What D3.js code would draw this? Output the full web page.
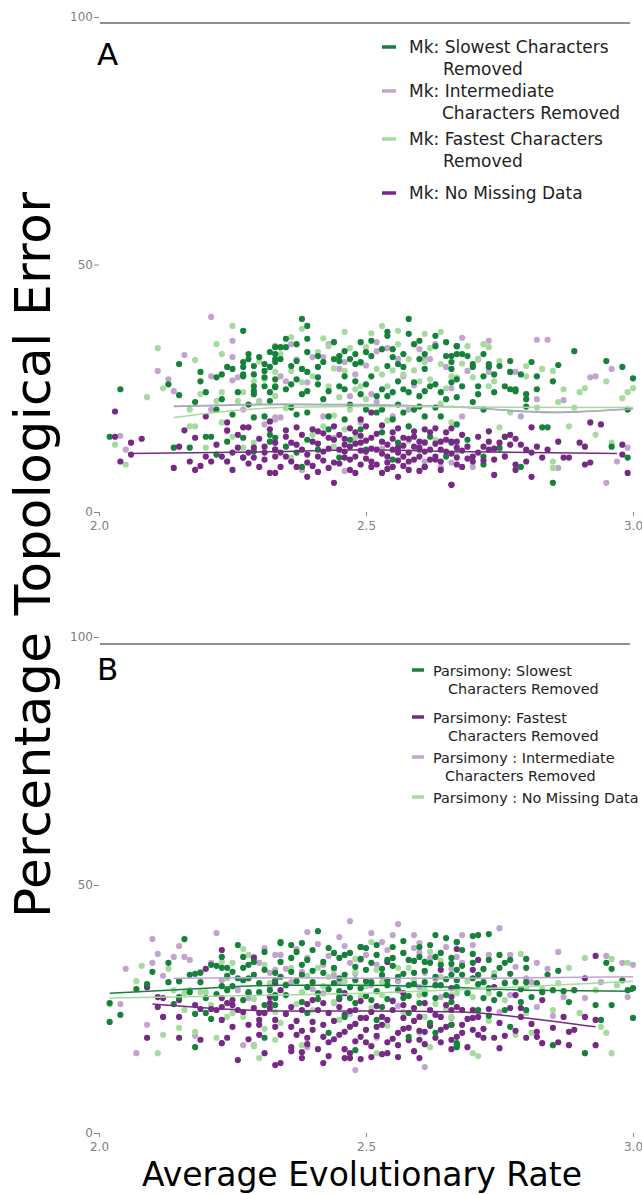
<!DOCTYPE html>
<html>
<head>
<meta charset="utf-8">
<script src="https://cdn.jsdelivr.net/npm/d3@7"></script>
<style>
  body { margin: 0; background: #fff; }
  text { font-family: "DejaVu Sans", sans-serif; }
</style>
</head>
<body>
<svg></svg>
<script>
var svgWidth = 642, svgHeight = 1195;

// axis ticks
var xTicks = [2.0, 2.5, 3.0];
var yTicks = [0, 50, 100];

// colours (PRGn)
var darkGreen = "#16813a", lightPurple = "#c2a5cf", lightGreen = "#a6dba0", darkPurple = "#762a83";

// ---- panel A: Mk  [average evolutionary rate, % topological error] ----
var mkSlowest = [[2.04,24.8],[2.02,15.2],[2.15,29.9],[2.13,25.8],[2.15,23.6],[2.27,36.6],[2.19,28.3],[2.19,26.4],[2.22,27.2],[2.23,27.8],[2.24,29.3],[2.25,28.9],[2.27,29.3],[2.27,30.3],[2.28,31.9],[2.28,30.9],[2.29,29.5],[2.30,31.3],[2.31,28.5],[2.31,29.9],[2.32,32.3],[2.33,30.9],[2.33,33.3],[2.20,24.2],[2.23,22.8],[2.26,24.2],[2.27,27.4],[2.29,24.4],[2.29,23.8],[2.29,25.4],[2.31,25.4],[2.33,25.2],[2.32,22.4],[2.22,20.7],[2.25,19.7],[2.29,19.1],[2.31,19.3],[2.18,22.2],[2.14,13.0],[2.17,13.0],[2.20,15.2],[2.21,15.2],[2.22,11.6],[2.24,14.2],[2.27,15.0],[2.27,11.0],[2.29,12.2],[2.32,15.6],[2.32,14.2],[2.33,12.6],
  [2.38,39.0],[2.39,37.6],[2.37,33.9],[2.39,35.0],[2.34,33.3],[2.35,33.3],[2.33,30.3],[2.34,30.9],[2.36,29.5],[2.38,28.9],[2.39,28.3],[2.41,29.3],[2.42,30.3],[2.44,30.9],[2.45,31.5],[2.45,30.5],[2.47,30.9],[2.48,29.9],[2.49,34.3],[2.50,32.3],[2.51,31.5],[2.53,32.9],[2.54,36.4],[2.54,35.6],[2.55,31.3],[2.56,29.9],[2.57,31.9],[2.58,36.0],[2.58,39.0],[2.59,33.9],[2.60,30.9],[2.61,28.9],[2.63,35.6],[2.63,33.5],[2.65,31.5],[2.66,30.3],[2.67,33.5],
  [2.33,25.4],[2.35,24.8],[2.37,26.8],[2.38,23.8],[2.41,25.8],[2.42,22.8],[2.45,25.4],[2.46,27.4],[2.48,26.4],[2.49,23.8],[2.51,27.4],[2.53,24.8],[2.54,23.4],[2.56,26.4],[2.57,24.8],[2.59,26.2],[2.60,23.4],[2.62,25.4],[2.64,24.2],[2.66,26.2],[2.67,23.2],
  [2.36,21.1],[2.39,20.1],[2.43,19.3],[2.46,18.7],[2.50,20.7],[2.52,20.1],[2.55,18.7],[2.57,20.1],[2.59,20.7],[2.61,19.3],[2.64,19.3],
  [2.33,15.0],[2.35,13.2],[2.37,12.0],[2.39,14.6],[2.41,12.6],[2.43,16.7],[2.45,11.0],[2.47,14.6],[2.49,16.7],[2.50,12.6],[2.53,16.1],[2.55,10.6],[2.56,14.0],[2.58,17.3],[2.60,12.6],[2.62,15.2],[2.65,11.2],[2.66,14.0],[2.61,9.1],[2.38,9.1],
  [2.67,33.5],[2.68,31.9],[2.69,31.5],[2.66,28.9],[2.67,26.8],[2.68,25.4],[2.70,29.9],[2.72,27.4],[2.72,31.9],[2.73,29.3],[2.74,27.8],[2.75,29.5],[2.77,28.3],[2.77,24.8],[2.78,24.4],[2.79,27.8],[2.80,23.8],[2.80,22.8],[2.80,21.3],[2.81,30.3],[2.82,24.8],[2.86,29.7],[2.85,26.4],[2.89,32.5],[2.95,30.5],[2.98,29.3],[3.00,27.0],[2.99,20.7],[2.70,22.2],[2.71,23.8],[2.72,20.7],
  [2.67,17.7],[2.69,14.6],[2.72,11.2],[2.72,9.6],[2.76,15.2],[2.79,9.1],[2.83,17.1],[2.84,17.1],[2.85,5.9],[2.96,13.2],[2.99,11.0],[2.75,13.0],
  [2.33,31.9],[2.35,35.0],[2.37,30.5],[2.39,32.3],[2.41,31.5],[2.44,34.3],[2.46,32.5],[2.48,31.9],[2.49,30.3],[2.51,34.6],[2.54,29.5],[2.55,32.9],[2.57,29.3],[2.60,34.6],[2.61,31.9],[2.65,34.3],[2.67,31.9],[2.33,26.8],[2.36,25.8],[2.39,24.4],[2.41,27.2],[2.43,24.4],[2.46,24.8],[2.50,25.8],[2.52,23.4],[2.55,24.2],[2.58,24.2],[2.61,24.4],[2.63,25.8],[2.65,22.8],[2.47,21.7],[2.56,21.7],[2.60,21.3],[2.37,19.7],[2.53,20.7],[2.63,21.1],
  [2.27,27.8],[2.29,27.8],[2.32,29.3],[2.31,27.2],[2.32,24.2],[2.28,21.7],[2.66,31.5],[2.70,29.3],[2.73,29.9],[2.71,25.4],[2.74,24.2],[2.76,25.4],[2.78,24.8],[2.82,27.4],[2.77,30.5]];

var mkIntermediate = [[2.21,39.4],[2.25,34.6],[2.16,31.7],[2.11,28.5],[2.13,26.8],[2.14,24.4],[2.21,27.4],[2.25,26.6],[2.26,27.2],[2.25,31.3],[2.33,33.5],[2.04,15.4],[2.05,12.6],[2.21,20.7],[2.27,20.7],[2.24,16.3],[2.30,22.4],[2.33,18.7],[2.31,17.7],
  [2.33,33.5],[2.36,33.9],[2.40,31.3],[2.42,31.3],[2.45,28.9],[2.46,30.3],[2.48,27.8],[2.52,32.5],[2.52,34.3],[2.56,30.9],[2.57,27.4],[2.61,30.9],[2.62,30.9],[2.65,29.3],[2.60,32.9],[2.51,23.8],[2.34,27.4],[2.35,26.4],[2.39,26.2],[2.33,19.1],[2.34,19.1],[2.42,19.3],[2.47,23.4],[2.49,18.1],[2.52,22.2],[2.55,19.3],[2.58,20.7],[2.61,10.2],[2.66,10.0],[2.64,9.1],[2.38,8.5],
  [2.68,35.2],[2.73,34.6],[2.82,34.8],[2.84,34.8],[2.69,28.5],[2.73,28.3],[2.77,28.3],[2.78,28.3],[2.92,27.2],[2.93,27.4],[2.96,28.9],[2.87,22.6],[2.68,19.3],[2.79,19.3],[2.82,22.8],[2.86,8.9],[2.95,5.9],[2.97,10.2],[2.99,13.0],[2.75,12.6],[2.70,9.1],
  [2.37,30.8],[2.43,33.9],[2.50,29.6],[2.54,33.1],[2.59,25.6],[2.63,33.9],[2.66,25.0],[2.71,30.8],[2.44,15.0],[2.53,12.8],[2.46,8.3],[2.58,14.4]];

var mkFastest = [[2.11,33.1],[2.09,23.2],[2.12,25.0],[2.25,37.6],[2.22,33.9],[2.18,30.7],[2.23,31.9],[2.05,9.6],[2.03,13.6],[2.17,20.7],[2.19,23.8],[2.22,22.4],[2.23,24.2],[2.26,22.4],[2.27,24.2],[2.29,26.4],[2.30,22.2],[2.33,23.4],[2.17,17.3],[2.18,17.3],[2.20,13.0],[2.23,18.1],[2.25,15.2],[2.27,13.0],[2.29,14.0],[2.24,10.2],[2.33,28.3],[2.31,26.8],
  [2.38,37.0],[2.46,36.4],[2.53,37.6],[2.56,36.6],[2.61,36.0],[2.64,36.4],[2.39,32.3],[2.41,32.3],[2.43,33.5],[2.45,31.5],[2.46,28.5],[2.48,24.8],[2.49,25.4],[2.50,22.8],[2.52,28.9],[2.53,27.8],[2.54,25.4],[2.57,27.8],[2.58,30.9],[2.60,26.4],[2.61,30.3],[2.62,26.8],[2.64,29.9],[2.66,27.4],[2.34,31.9],[2.36,28.5],[2.38,26.2],[2.43,25.4],[2.45,23.2],[2.47,20.7],[2.42,17.3],[2.46,16.7],[2.48,15.0],[2.44,13.2],[2.58,17.3],[2.61,14.2],[2.63,14.6],[2.66,18.1],[2.36,11.0],[2.50,33.3],
  [2.69,33.5],[2.72,33.9],[2.73,33.3],[2.67,27.2],[2.70,27.2],[2.73,25.4],[2.74,26.4],[2.75,30.5],[2.78,24.4],[2.80,27.4],[2.80,29.5],[2.83,28.9],[2.85,28.5],[2.87,24.8],[2.86,22.2],[2.89,21.1],[2.90,24.2],[2.91,25.0],[2.95,26.4],[2.99,24.2],[2.98,23.0],[3.00,25.0],[2.77,20.1],[2.82,21.1],[2.88,17.3],[2.93,15.6],[2.96,14.0],[2.85,10.2],[2.85,8.9],[2.75,17.1],[2.76,11.6],[2.67,12.0],
  [2.36,35.3],[2.40,27.4],[2.42,35.1],[2.44,29.0],[2.47,33.1],[2.49,30.0],[2.51,36.1],[2.55,28.6],[2.56,33.9],[2.59,28.6],[2.62,33.1],[2.65,25.0],[2.68,30.0],[2.71,31.0],[2.30,30.4],[2.35,21.0],[2.44,19.5],[2.54,18.5],[2.40,15.6],[2.64,21.9]];

var mkNoMissing = [[2.03,20.3],[2.03,15.2],[2.06,14.0],[2.08,14.8],[2.04,10.2],[2.06,11.6],[2.14,8.9],[2.16,16.5],[2.17,10.2],[2.18,8.5],[2.15,13.2],[2.18,15.0],[2.20,19.3],[2.20,11.2],[2.21,10.2],[2.19,9.3],[2.22,13.6],[2.23,11.2],[2.24,10.2],[2.24,18.1],[2.24,16.5],[2.25,12.0],[2.25,8.5],[2.26,13.0],[2.27,17.1],[2.27,11.0],[2.28,12.0],[2.28,17.1],[2.29,13.0],[2.29,11.0],[2.30,9.1],[2.31,10.6],[2.31,13.2],[2.32,16.7],[2.33,7.9],[2.33,11.2],[2.33,14.0],[2.32,18.3],
  [2.32,7.9],[2.34,9.1],[2.35,11.2],[2.36,14.0],[2.37,17.1],[2.38,12.6],[2.39,10.0],[2.40,14.2],[2.41,11.2],[2.41,8.1],[2.42,12.2],[2.43,15.0],[2.44,10.0],[2.44,5.9],[2.45,12.6],[2.45,15.6],[2.46,11.0],[2.47,8.5],[2.47,13.2],[2.48,16.1],[2.48,11.2],[2.49,9.6],[2.49,14.0],[2.50,12.2],[2.51,15.0],[2.51,20.1],[2.51,10.2],[2.52,12.6],[2.53,7.9],[2.53,14.2],[2.54,11.2],[2.55,16.1],[2.55,9.1],[2.56,13.0],[2.56,7.1],[2.57,11.2],[2.57,15.0],[2.58,10.2],[2.59,13.2],[2.59,16.3],[2.60,11.2],[2.61,9.1],[2.61,14.0],[2.62,12.6],[2.62,16.1],[2.63,10.6],[2.64,14.2],[2.64,8.5],[2.65,12.2],[2.65,16.1],[2.66,5.5],[2.67,11.0],[2.67,14.2],[2.33,12.6],[2.35,15.2],[2.37,9.1],[2.39,7.1],[2.41,16.3],[2.46,13.6],[2.49,18.7],[2.51,9.1],[2.54,10.0],[2.56,12.0],[2.58,8.5],[2.60,13.0],[2.63,11.2],
  [2.66,14.2],[2.67,13.0],[2.68,9.1],[2.69,13.2],[2.70,11.2],[2.70,10.2],[2.71,15.2],[2.72,13.2],[2.73,12.6],[2.74,7.5],[2.74,10.6],[2.75,14.0],[2.76,15.2],[2.77,13.6],[2.77,15.6],[2.78,9.6],[2.78,8.5],[2.79,13.6],[2.80,12.6],[2.81,12.0],[2.81,7.1],[2.81,17.1],[2.82,13.2],[2.83,11.0],[2.84,12.6],[2.86,14.2],[2.87,11.0],[2.88,11.0],[2.90,14.0],[2.91,13.2],[2.92,18.1],[2.91,9.6],[2.92,10.0],[2.94,17.7],[2.98,13.6],[2.98,11.6],[2.99,7.9],[2.66,5.5],[2.73,14.2],
  [2.34,12.0],[2.35,16.5],[2.36,10.2],[2.37,13.6],[2.38,15.6],[2.39,11.6],[2.40,16.7],[2.40,9.3],[2.41,13.8],[2.42,10.4],[2.42,15.9],[2.43,12.8],[2.43,8.9],[2.44,14.6],[2.44,17.3],[2.45,9.8],[2.46,14.8],[2.46,12.2],[2.47,10.6],[2.47,16.9],[2.48,13.8],[2.48,7.9],[2.49,12.4],[2.49,15.4],[2.50,10.8],[2.50,14.4],[2.50,17.3],[2.51,12.8],[2.52,9.6],[2.52,15.8],[2.53,11.8],[2.53,17.5],[2.54,13.6],[2.54,8.7],[2.55,12.6],[2.55,14.8],[2.56,10.4],[2.56,16.9],[2.57,13.4],[2.57,9.3],[2.58,14.8],[2.58,12.0],[2.59,10.6],[2.59,15.2],[2.60,14.2],[2.60,8.3],[2.61,12.2],[2.61,16.7],[2.62,10.6],[2.63,13.8],[2.63,16.9],[2.64,12.6],[2.64,10.2],[2.65,14.6],[2.66,11.8],[2.66,16.9],[2.67,9.6],[2.68,12.4],[2.68,15.6],[2.69,10.8],[2.71,12.0],[2.72,10.4],[2.73,16.3],[2.74,12.8],[2.76,11.2],[2.78,14.8],[2.80,10.2],[2.30,14.8],[2.28,9.8],[2.26,15.6],[2.31,12.0]];

// lowess-style trend lines, panel A
var mkSlowestTrend = [[2.14,21.3],[2.34,21.7],[2.5,21.6],[2.66,21.3],[2.85,20.1],[3.0,20.9]];
var mkIntermediateTrend = [[2.14,21.4],[2.34,21.8],[2.5,21.7],[2.66,21.2],[2.85,20.2],[3.0,20.8]];
var mkFastestTrend = [[2.14,19.1],[2.34,21.1],[2.5,21.3],[2.7,21.2],[3.0,21.1]];
var mkNoMissingTrend = [[2.06,11.8],[2.34,12.2],[2.5,12.6],[2.66,12.2],[2.97,11.8]];

// ---- panel B: Parsimony ----
var parsSlowest = [[2.16,39.1],[2.26,37.9],[2.13,34.3],[2.10,32.5],[2.09,30.0],[2.07,29.0],[2.02,26.2],[2.04,23.8],[2.02,22.4],[2.13,30.4],[2.15,30.6],[2.17,31.9],[2.18,32.1],[2.19,30.4],[2.17,28.4],[2.15,27.4],[2.14,26.0],[2.18,24.0],[2.21,23.0],[2.20,24.2],[2.21,33.9],[2.22,33.7],[2.23,33.3],[2.23,35.5],[2.24,33.3],[2.25,32.5],[2.23,29.6],[2.24,28.8],[2.25,29.6],[2.27,30.8],[2.28,31.2],[2.27,33.3],[2.27,35.5],[2.29,34.5],[2.29,31.9],[2.31,32.9],[2.27,26.8],[2.28,28.4],[2.30,28.4],[2.31,25.8],[2.33,27.8],[2.33,25.8],[2.33,30.8],[2.18,17.3],[2.31,19.2],[2.34,38.3],[2.19,32.3],
  [2.41,40.7],[2.34,38.5],[2.36,37.9],[2.38,38.3],[2.37,36.5],[2.39,34.9],[2.43,37.3],[2.44,36.3],[2.45,35.3],[2.47,36.3],[2.49,37.5],[2.50,37.3],[2.52,35.9],[2.54,34.9],[2.55,35.3],[2.57,36.3],[2.58,34.9],[2.60,35.5],[2.61,34.5],[2.63,39.9],[2.63,35.5],[2.65,39.3],[2.67,38.5],[2.64,36.3],[2.66,35.3],
  [2.33,32.3],[2.34,31.5],[2.36,32.5],[2.38,31.9],[2.40,30.4],[2.42,32.3],[2.44,30.2],[2.45,31.2],[2.47,29.4],[2.48,30.8],[2.50,32.9],[2.51,30.4],[2.53,31.9],[2.54,29.8],[2.56,31.5],[2.58,29.8],[2.59,32.3],[2.61,30.4],[2.63,31.5],[2.64,29.8],[2.66,31.9],[2.67,29.4],
  [2.33,27.2],[2.35,27.8],[2.38,26.4],[2.41,28.2],[2.45,27.4],[2.48,26.2],[2.51,26.8],[2.53,25.4],[2.57,27.2],[2.60,26.2],[2.63,27.2],[2.66,26.4],[2.39,24.2],[2.46,23.4],[2.52,22.8],[2.58,24.2],[2.62,22.2],[2.66,21.8],[2.48,16.7],[2.58,19.4],[2.63,20.2],[2.67,17.7],[2.43,20.2],
  [2.70,39.7],[2.71,39.9],[2.67,38.5],[2.68,36.9],[2.75,35.9],[2.70,34.3],[2.73,34.9],[2.75,33.3],[2.76,34.3],[2.77,34.9],[2.80,33.3],[2.67,32.9],[2.68,31.9],[2.70,31.2],[2.71,31.9],[2.72,30.4],[2.73,29.2],[2.76,30.2],[2.78,30.4],[2.80,30.4],[2.86,32.7],[2.95,34.3],[2.96,33.1],[2.98,30.8],[3.00,29.2],[2.99,28.8],[2.87,28.6],[2.89,28.8],[2.85,28.8],[2.83,28.4],[2.81,27.4],[2.79,26.4],[2.72,27.2],[2.74,26.8],[2.71,24.8],[2.73,23.6],[2.88,26.4],[2.93,25.8],[2.96,25.8],[2.94,22.8],[3.00,23.2],[2.77,21.4],[2.85,17.7],[2.91,16.1],[2.67,18.1],[2.67,17.3],[2.76,24.8],[2.80,24.8],
  [2.34,34.5],[2.35,29.8],[2.36,35.3],[2.37,30.6],[2.38,33.9],[2.39,29.4],[2.40,36.9],[2.40,32.7],[2.41,27.0],[2.42,34.5],[2.43,29.0],[2.44,33.3],[2.45,28.6],[2.46,35.9],[2.46,31.9],[2.47,27.2],[2.48,33.5],[2.49,29.2],[2.49,35.1],[2.50,30.6],[2.50,27.6],[2.51,34.3],[2.52,28.6],[2.52,37.9],[2.53,33.1],[2.54,30.8],[2.54,27.0],[2.55,37.5],[2.55,33.7],[2.56,28.8],[2.57,32.1],[2.57,38.7],[2.58,27.6],[2.59,34.7],[2.59,30.0],[2.60,37.5],[2.61,32.7],[2.61,28.0],[2.62,34.3],[2.62,37.9],[2.63,29.8],[2.64,33.9],[2.65,31.0],[2.65,27.8],[2.66,34.1],[2.67,30.8],[2.68,33.7],[2.69,28.2],[2.70,36.1],[2.71,30.0],[2.72,33.1],[2.73,40.1],[2.74,31.5],[2.75,28.0],[2.77,32.1],[2.79,29.0],[2.80,35.1],[2.82,30.2],[2.84,31.9],[2.26,31.2],[2.28,33.9],[2.30,30.2],[2.31,36.5],[2.32,28.8],[2.22,28.0],[2.24,31.7],[2.20,27.2]];

var parsFastest = [[2.09,29.4],[2.11,25.4],[2.12,23.4],[2.09,19.2],[2.11,27.4],[2.12,27.2],[2.15,23.4],[2.15,19.2],[2.15,26.8],[2.18,25.8],[2.19,18.8],[2.19,25.0],[2.20,33.1],[2.21,25.0],[2.22,24.8],[2.23,27.2],[2.23,18.1],[2.23,36.9],[2.23,25.4],[2.24,26.2],[2.24,19.2],[2.23,22.8],[2.25,26.8],[2.25,25.8],[2.26,24.8],[2.28,28.2],[2.29,25.2],[2.29,35.3],[2.28,21.8],[2.30,24.2],[2.30,19.8],[2.30,21.8],[2.31,16.1],[2.31,24.2],[2.32,25.2],[2.32,27.4],[2.33,21.4],[2.33,13.7],
  [2.34,14.1],[2.36,17.3],[2.38,16.3],[2.38,15.1],[2.42,14.1],[2.46,15.1],[2.47,16.1],[2.47,15.1],[2.51,15.3],[2.54,16.1],[2.56,15.3],[2.60,15.1],[2.33,22.8],[2.36,21.4],[2.37,19.8],[2.39,19.2],[2.40,20.8],[2.42,19.4],[2.43,18.3],[2.45,19.8],[2.47,21.4],[2.49,19.4],[2.50,18.3],[2.52,21.4],[2.54,18.3],[2.56,20.2],[2.58,21.2],[2.60,18.8],[2.61,20.4],[2.63,19.2],[2.65,21.4],[2.67,19.4],[2.32,26.2],[2.34,28.8],[2.36,25.4],[2.38,24.8],[2.40,26.8],[2.41,24.8],[2.43,24.2],[2.45,25.4],[2.46,23.8],[2.48,24.8],[2.49,23.2],[2.51,24.4],[2.53,23.4],[2.55,24.8],[2.57,23.2],[2.59,25.2],[2.60,23.4],[2.62,24.8],[2.64,23.4],[2.66,24.8],[2.49,37.5],[2.54,34.5],[2.64,32.9],[2.33,30.2],[2.46,28.2],[2.57,28.2],
  [2.67,37.1],[2.70,32.9],[2.71,34.9],[2.66,29.2],[2.66,27.4],[2.67,25.4],[2.68,24.8],[2.70,24.8],[2.70,23.2],[2.71,23.4],[2.66,21.8],[2.68,21.8],[2.70,20.8],[2.71,19.8],[2.72,19.2],[2.74,19.2],[2.76,19.6],[2.69,17.3],[2.77,25.2],[2.79,25.2],[2.78,27.8],[2.79,23.4],[2.80,19.2],[2.82,20.4],[2.82,19.4],[2.83,26.8],[2.83,18.1],[2.85,21.2],[2.86,18.3],[2.87,23.4],[2.88,17.7],[2.88,20.4],[2.89,20.8],[2.91,23.4],[2.91,31.2],[2.93,22.8],[2.93,17.7],[2.93,35.7],[2.75,17.1],[2.74,29.4],[2.66,18.8],
  [2.34,19.8],[2.35,24.0],[2.36,16.5],[2.37,22.6],[2.38,20.6],[2.39,26.0],[2.39,17.9],[2.40,22.4],[2.41,16.9],[2.42,21.8],[2.42,26.2],[2.43,15.5],[2.44,22.6],[2.44,18.9],[2.45,27.0],[2.46,20.4],[2.46,16.9],[2.47,24.6],[2.48,18.5],[2.48,22.0],[2.49,14.9],[2.49,26.6],[2.50,20.8],[2.50,23.2],[2.51,17.5],[2.52,25.6],[2.52,19.6],[2.53,21.8],[2.53,15.9],[2.54,22.8],[2.55,19.0],[2.55,26.6],[2.56,17.7],[2.57,21.0],[2.57,25.8],[2.58,18.7],[2.59,22.6],[2.59,16.5],[2.60,20.6],[2.61,26.2],[2.61,17.9],[2.62,21.6],[2.63,23.8],[2.64,18.3],[2.64,20.8],[2.65,25.8],[2.66,16.9],[2.68,20.2],[2.69,23.0],[2.72,21.0],[2.73,25.0],[2.75,22.2],[2.78,20.6],[2.81,22.0],[2.30,22.8],[2.28,18.9],[2.27,24.4],[2.25,21.4],[2.26,14.7]];

var parsIntermediate = [[2.10,39.1],[2.22,40.3],[2.15,37.7],[2.11,36.1],[2.10,34.3],[2.05,33.1],[2.14,35.5],[2.16,35.5],[2.17,34.9],[2.12,31.7],[2.15,30.6],[2.19,32.5],[2.21,34.3],[2.23,30.8],[2.26,28.8],[2.28,27.2],[2.29,35.5],[2.30,34.3],[2.31,37.3],[2.32,32.3],[2.09,21.8],[2.07,16.1],[2.04,26.0],[2.18,19.6],[2.27,17.7],[2.29,17.7],[2.33,32.9],
  [2.47,42.7],[2.56,42.1],[2.39,40.5],[2.45,39.5],[2.53,38.5],[2.55,39.9],[2.59,39.9],[2.33,35.9],[2.34,35.9],[2.39,35.3],[2.42,33.9],[2.47,34.3],[2.49,34.9],[2.52,33.9],[2.57,36.3],[2.59,37.3],[2.60,36.3],[2.65,37.5],[2.45,30.4],[2.51,29.8],[2.60,29.4],[2.64,27.4],[2.39,17.3],[2.48,12.7],[2.61,13.3],[2.52,19.2],[2.38,32.5],[2.36,30.4],[2.42,28.2],
  [2.75,41.3],[2.68,39.9],[2.70,37.9],[2.67,35.5],[2.68,34.3],[2.73,35.9],[2.77,35.9],[2.86,36.5],[2.82,34.3],[2.81,30.4],[2.80,31.2],[2.84,33.1],[2.95,35.7],[2.98,34.3],[3.00,33.9],[2.94,30.4],[2.99,27.4],[2.87,27.4],[2.91,27.2],[2.82,25.4],[2.85,23.6],[2.69,28.4],[2.75,24.4],[2.66,23.2],[2.77,27.8],
  [2.35,33.1],[2.37,37.1],[2.40,29.0],[2.41,38.1],[2.43,35.7],[2.44,31.9],[2.46,37.7],[2.48,32.1],[2.50,35.9],[2.51,40.3],[2.53,31.5],[2.54,36.9],[2.56,30.6],[2.58,34.9],[2.60,38.3],[2.61,32.3],[2.62,35.3],[2.63,31.0],[2.66,33.1],[2.44,26.2],[2.56,25.6],[2.48,22.0],[2.32,29.6],[2.71,31.9],[2.78,33.5]];

var parsNoMissing = [[2.08,33.7],[2.07,30.6],[2.02,26.0],[2.13,33.1],[2.14,28.8],[2.16,28.2],[2.17,28.8],[2.12,19.8],[2.15,21.2],[2.16,24.8],[2.18,20.4],[2.11,16.1],[2.19,28.4],[2.20,28.4],[2.21,25.8],[2.22,19.2],[2.23,34.5],[2.25,34.3],[2.25,24.2],[2.24,23.4],[2.27,37.1],[2.28,35.9],[2.27,23.4],[2.29,17.5],[2.30,15.1],[2.31,33.9],[2.32,30.2],[2.33,24.4],[2.24,31.2],
  [2.38,38.3],[2.51,38.5],[2.48,32.5],[2.43,31.5],[2.41,33.3],[2.36,33.3],[2.56,33.3],[2.58,33.3],[2.62,36.5],[2.64,31.5],[2.34,22.2],[2.33,18.8],[2.38,17.7],[2.52,16.1],[2.62,17.3],[2.45,22.8],[2.49,27.4],[2.53,27.8],[2.55,26.8],[2.60,27.8],[2.66,27.8],[2.61,23.4],[2.38,28.4],[2.44,32.9],[2.52,32.9],[2.67,29.4],
  [2.71,15.5],[2.70,16.1],[2.79,36.1],[2.91,35.3],[2.96,35.1],[2.99,34.3],[2.67,28.2],[2.70,27.4],[2.73,28.2],[2.72,32.9],[2.74,32.3],[2.76,30.4],[2.80,29.4],[2.83,29.0],[2.85,24.8],[2.90,24.2],[2.80,24.2],[2.78,19.8],[2.81,20.2],[2.94,21.4],[2.95,20.2],[2.96,16.1],[2.66,23.4],[2.68,24.8],[2.97,29.8],[2.93,28.8],
  [2.35,30.0],[2.37,26.0],[2.39,31.7],[2.40,24.8],[2.42,29.6],[2.44,26.4],[2.46,30.6],[2.47,24.0],[2.48,35.1],[2.50,29.6],[2.51,25.2],[2.53,30.4],[2.54,21.6],[2.56,29.0],[2.57,24.4],[2.59,30.8],[2.60,20.2],[2.61,28.8],[2.63,26.0],[2.64,34.7],[2.65,25.0],[2.69,30.6],[2.73,22.6],[2.76,26.8],[2.86,30.2],[2.88,33.3],[2.29,27.0],[2.31,21.0]];

// trend lines, panel B
var parsSlowestTrend = [[2.02,28.2],[2.2,29.2],[2.34,29.8],[2.5,29.8],[2.66,29.4],[2.8,28.8],[3.0,28.6]];
var parsFastestTrend = [[2.10,26.0],[2.34,24.6],[2.5,24.6],[2.68,24.4],[2.8,23.2],[2.93,21.4]];
var parsIntermediateTrend = [[2.14,31.2],[2.34,31.3],[2.5,31.2],[2.7,31.2],[3.0,31.5]];
var parsNoMissingTrend = [[2.02,27.2],[2.34,27.8],[2.5,28.2],[2.7,29.0],[3.0,30.6]];

// legend texts
var legendA = [["Mk: Slowest Characters", "Removed"], ["Mk: Intermediate", "Characters Removed"], ["Mk: Fastest Characters", "Removed"], ["Mk: No Missing Data"]];
var legendB = [["Parsimony: Slowest", "Characters Removed"], ["Parsimony: Fastest", "Characters Removed"], ["Parsimony : Intermediate", "Characters Removed"], ["Parsimony : No Missing Data"]];

var panels = [
  {
    label: "A", y0: 512, y100: 17, rule: 23, labelY: 65,
    dots: [[mkIntermediate, lightPurple], [mkFastest, lightGreen], [mkSlowest, darkGreen], [mkNoMissing, darkPurple]],
    trends: [[mkSlowestTrend, darkGreen, 0.6], [mkIntermediateTrend, lightPurple, 0.85], [mkFastestTrend, lightGreen, 1], [mkNoMissingTrend, darkPurple, 1]],
    legend: legendA, legendColors: [darkGreen, lightPurple, lightGreen, darkPurple],
    lx1: 382, lx2: 396, tx: 409, tx2: [443, 442, 443], ly: [47, 91, 139, 193], lh: 22, fs: 17
  },
  {
    label: "B", y0: 1133, y100: 637, rule: 644, labelY: 680,
    dots: [[parsIntermediate, lightPurple], [parsNoMissing, lightGreen], [parsFastest, darkPurple], [parsSlowest, darkGreen]],
    trends: [[parsSlowestTrend, darkGreen, 1], [parsIntermediateTrend, lightPurple, 1], [parsNoMissingTrend, lightGreen, 1], [parsFastestTrend, darkPurple, 1]],
    legend: legendB, legendColors: [darkGreen, darkPurple, lightPurple, lightGreen],
    lx1: 412, lx2: 424, tx: 433, tx2: [448, 448, 445], ly: [670, 717, 757, 797], lh: 18, fs: 14.4
  }
];

var svg = d3.select("svg")
    .attr("width", svgWidth)
    .attr("height", svgHeight);

svg.append("rect")
    .attr("width", "100%")
    .attr("height", "100%")
    .attr("fill", "white");

var xScale = d3.scaleLinear()
    .domain([2, 3])
    .range([99, 633]);

panels.forEach(function (p) {
  var yScale = d3.scaleLinear()
      .domain([0, 100])
      .range([p.y0, p.y100]);

  var g = svg.append("g");

  // top rule of the panel
  g.append("line")
      .attr("x1", xScale(2) + 1)
      .attr("x2", xScale(3) - 3)
      .attr("y1", p.rule)
      .attr("y2", p.rule)
      .style("stroke", "#222")
      .style("stroke-width", 1.2);

  var yAxis = g.append("g")
      .attr("transform", "translate(" + xScale(2) + ",0)")
      .call(d3.axisLeft(yScale).tickValues(yTicks).tickSize(5).tickPadding(1).tickFormat(d3.format("d")));

  var xAxis = g.append("g")
      .attr("transform", "translate(0," + p.y0 + ")")
      .call(d3.axisBottom(xScale).tickValues(xTicks).tickSize(4).tickPadding(5).tickFormat(d3.format(".1f")));

  [yAxis, xAxis].forEach(function (a) {
    a.select(".domain").remove();
    a.selectAll("line").style("stroke", "#888");
    a.selectAll("text").style("fill", "#808080").style("font-size", "12px")
        .style("font-family", "DejaVu Sans, sans-serif");
  });
  yAxis.selectAll("text").attr("dy", "0.3em");

  // scatter points
  p.dots.forEach(function (s) {
    g.append("g").selectAll("circle")
        .data(s[0])
        .join("circle")
        .attr("cx", function (d) { return xScale(d[0]); })
        .attr("cy", function (d) { return yScale(d[1]); })
        .attr("r", 3.1)
        .attr("fill", s[1]);
  });

  // trend lines
  var line = d3.line()
      .x(function (d) { return xScale(d[0]); })
      .y(function (d) { return yScale(d[1]); })
      .curve(d3.curveMonotoneX);

  p.trends.forEach(function (t) {
    g.append("path")
        .attr("d", line(t[0]))
        .attr("fill", "none")
        .style("stroke", t[1])
        .style("stroke-opacity", t[2])
        .style("stroke-width", 1.5);
  });

  // panel letter
  g.append("text")
      .attr("x", 97)
      .attr("y", p.labelY)
      .style("font-size", "31px")
      .text(p.label);

  // legend
  p.legend.forEach(function (lines, i) {
    g.append("line")
        .attr("x1", p.lx1).attr("x2", p.lx2)
        .attr("y1", p.ly[i]).attr("y2", p.ly[i])
        .style("stroke", p.legendColors[i])
        .style("stroke-width", 3.5);
    lines.forEach(function (txt, j) {
      g.append("text")
          .attr("x", j === 0 ? p.tx : p.tx2[i])
          .attr("y", p.ly[i] + 6 + j * p.lh)
          .style("font-size", p.fs + "px")
          .style("fill", "#222")
          .text(txt);
    });
  });
});

// axis titles
svg.append("text")
    .attr("transform", "translate(50,555) rotate(-90)")
    .attr("text-anchor", "middle")
    .attr("textLength", 726)
    .attr("lengthAdjust", "spacing")
    .style("font-size", "50px")
    .text("Percentage Topological Error");

svg.append("text")
    .attr("x", 362)
    .attr("y", 1186)
    .attr("text-anchor", "middle")
    .attr("textLength", 440)
    .attr("lengthAdjust", "spacing")
    .style("font-size", "33px")
    .text("Average Evolutionary Rate");
</script>
</body>
</html>
